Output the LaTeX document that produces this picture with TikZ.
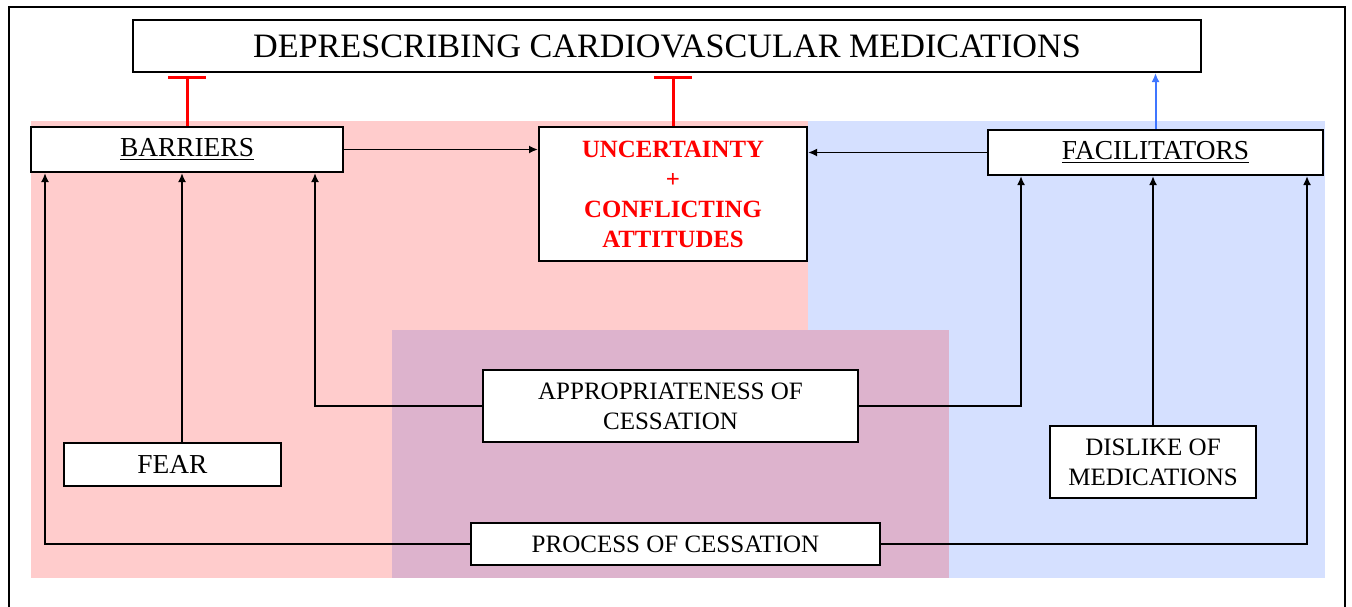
\documentclass[tikz,border=0pt]{standalone}
\usepackage{fontspec}
\setmainfont{Liberation Serif}
\usepackage{xcolor}
\usetikzlibrary{arrows.meta}

\definecolor{barrierbg}{HTML}{FFCCCC}
\definecolor{facilbg}{HTML}{D5E0FF}
\definecolor{overlapbg}{HTML}{DDB3CD}
\definecolor{inhibit}{HTML}{FF0000}
\definecolor{promote}{HTML}{3F76FF}

\newcommand{\midfont}{\fontsize{13.7}{16}\selectfont}
\newcommand{\smallfont}{\fontsize{12.5}{15}\selectfont}

\begin{document}
\begin{tikzpicture}[x=0.5pt,y=-0.5pt,
    box/.style={draw=black,fill=white,line width=1pt,inner sep=0pt,align=center},
    arr/.style={line width=0.9pt,-{Latex[length=4.5pt,width=4pt]}},
    inh/.style={draw=inhibit,line width=1.5pt,-{Bar[width=19pt,line width=1.5pt]},shorten >=1.5pt}]
  \useasboundingbox (0,0) rectangle (1352,606);

  % shaded areas
  \fill[barrierbg] (31,121) rectangle (808,578);
  \fill[facilbg] (808,121) rectangle (1325,578);
  \fill[overlapbg] (392,330) rectangle (949,578);

  % outer frame
  \draw[line width=1pt] (8.5,620) -- (8.5,7) -- (1345,7) -- (1345,620);

  % boxes
  \node[box,minimum width=534pt,minimum height=26pt,font=\fontsize{17.1}{19}\selectfont] (title) at (667,46) {DEPRESCRIBING CARDIOVASCULAR MEDICATIONS};
  \node[box,minimum width=156pt,minimum height=22.5pt,font=\midfont] (barriers) at (187,149.5) {\underline{BARRIERS}};
  \node[box,minimum width=134pt,minimum height=67pt,text=inhibit,font=\fontsize{12.4}{15}\selectfont\bfseries] (uncert) at (673,194) {UNCERTAINTY\\+\\CONFLICTING\\ATTITUDES};
  \node[box,minimum width=167.5pt,minimum height=22.5pt,font=\midfont] (facil) at (1155.5,152.5) {\underline{FACILITATORS}};
  \node[box,minimum width=187.5pt,minimum height=36pt,font=\smallfont] (approp) at (670.5,406) {APPROPRIATENESS OF\\CESSATION};
  \node[box,minimum width=108.5pt,minimum height=21.5pt,font=\midfont] (fear) at (172.5,464.5) {FEAR};
  \node[box,minimum width=103pt,minimum height=36pt,font=\smallfont] (dislike) at (1153,462) {DISLIKE OF\\MEDICATIONS};
  \node[box,minimum width=204.5pt,minimum height=21pt,font=\smallfont] (process) at (675.5,544) {PROCESS OF CESSATION};

  % columns of the vertical connectors
  \coordinate (c1) at (45,0);
  \coordinate (c2) at (182,0);
  \coordinate (c3) at (315,0);
  \coordinate (c4) at (1021,0);
  \coordinate (c5) at (1307,0);

  % connectors
  \draw[arr] (process.west) -| (barriers.south -| c1);
  \draw[arr] (process.east) -| (facil.south -| c5);
  \draw[arr] (approp.west) -| (barriers.south -| c3);
  \draw[arr] (approp.east) -| (facil.south -| c4);
  \draw[arr] (fear.north -| c2) -- (barriers.south -| c2);
  \draw[arr] (dislike.north) -- (dislike.north |- facil.south);
  \draw[arr] (barriers.east) -- (barriers.east -| uncert.west);
  \draw[arr] (facil.west) -- (facil.west -| uncert.east);

  \draw[inh] (barriers.north) -- (barriers.north |- title.south);
  \draw[inh] (uncert.north) -- (uncert.north |- title.south);
  \draw[promote,line width=1pt,-{Latex[length=4.5pt,width=4pt]}] (facil.north) -- (facil.north |- title.south);
\end{tikzpicture}
\end{document}
